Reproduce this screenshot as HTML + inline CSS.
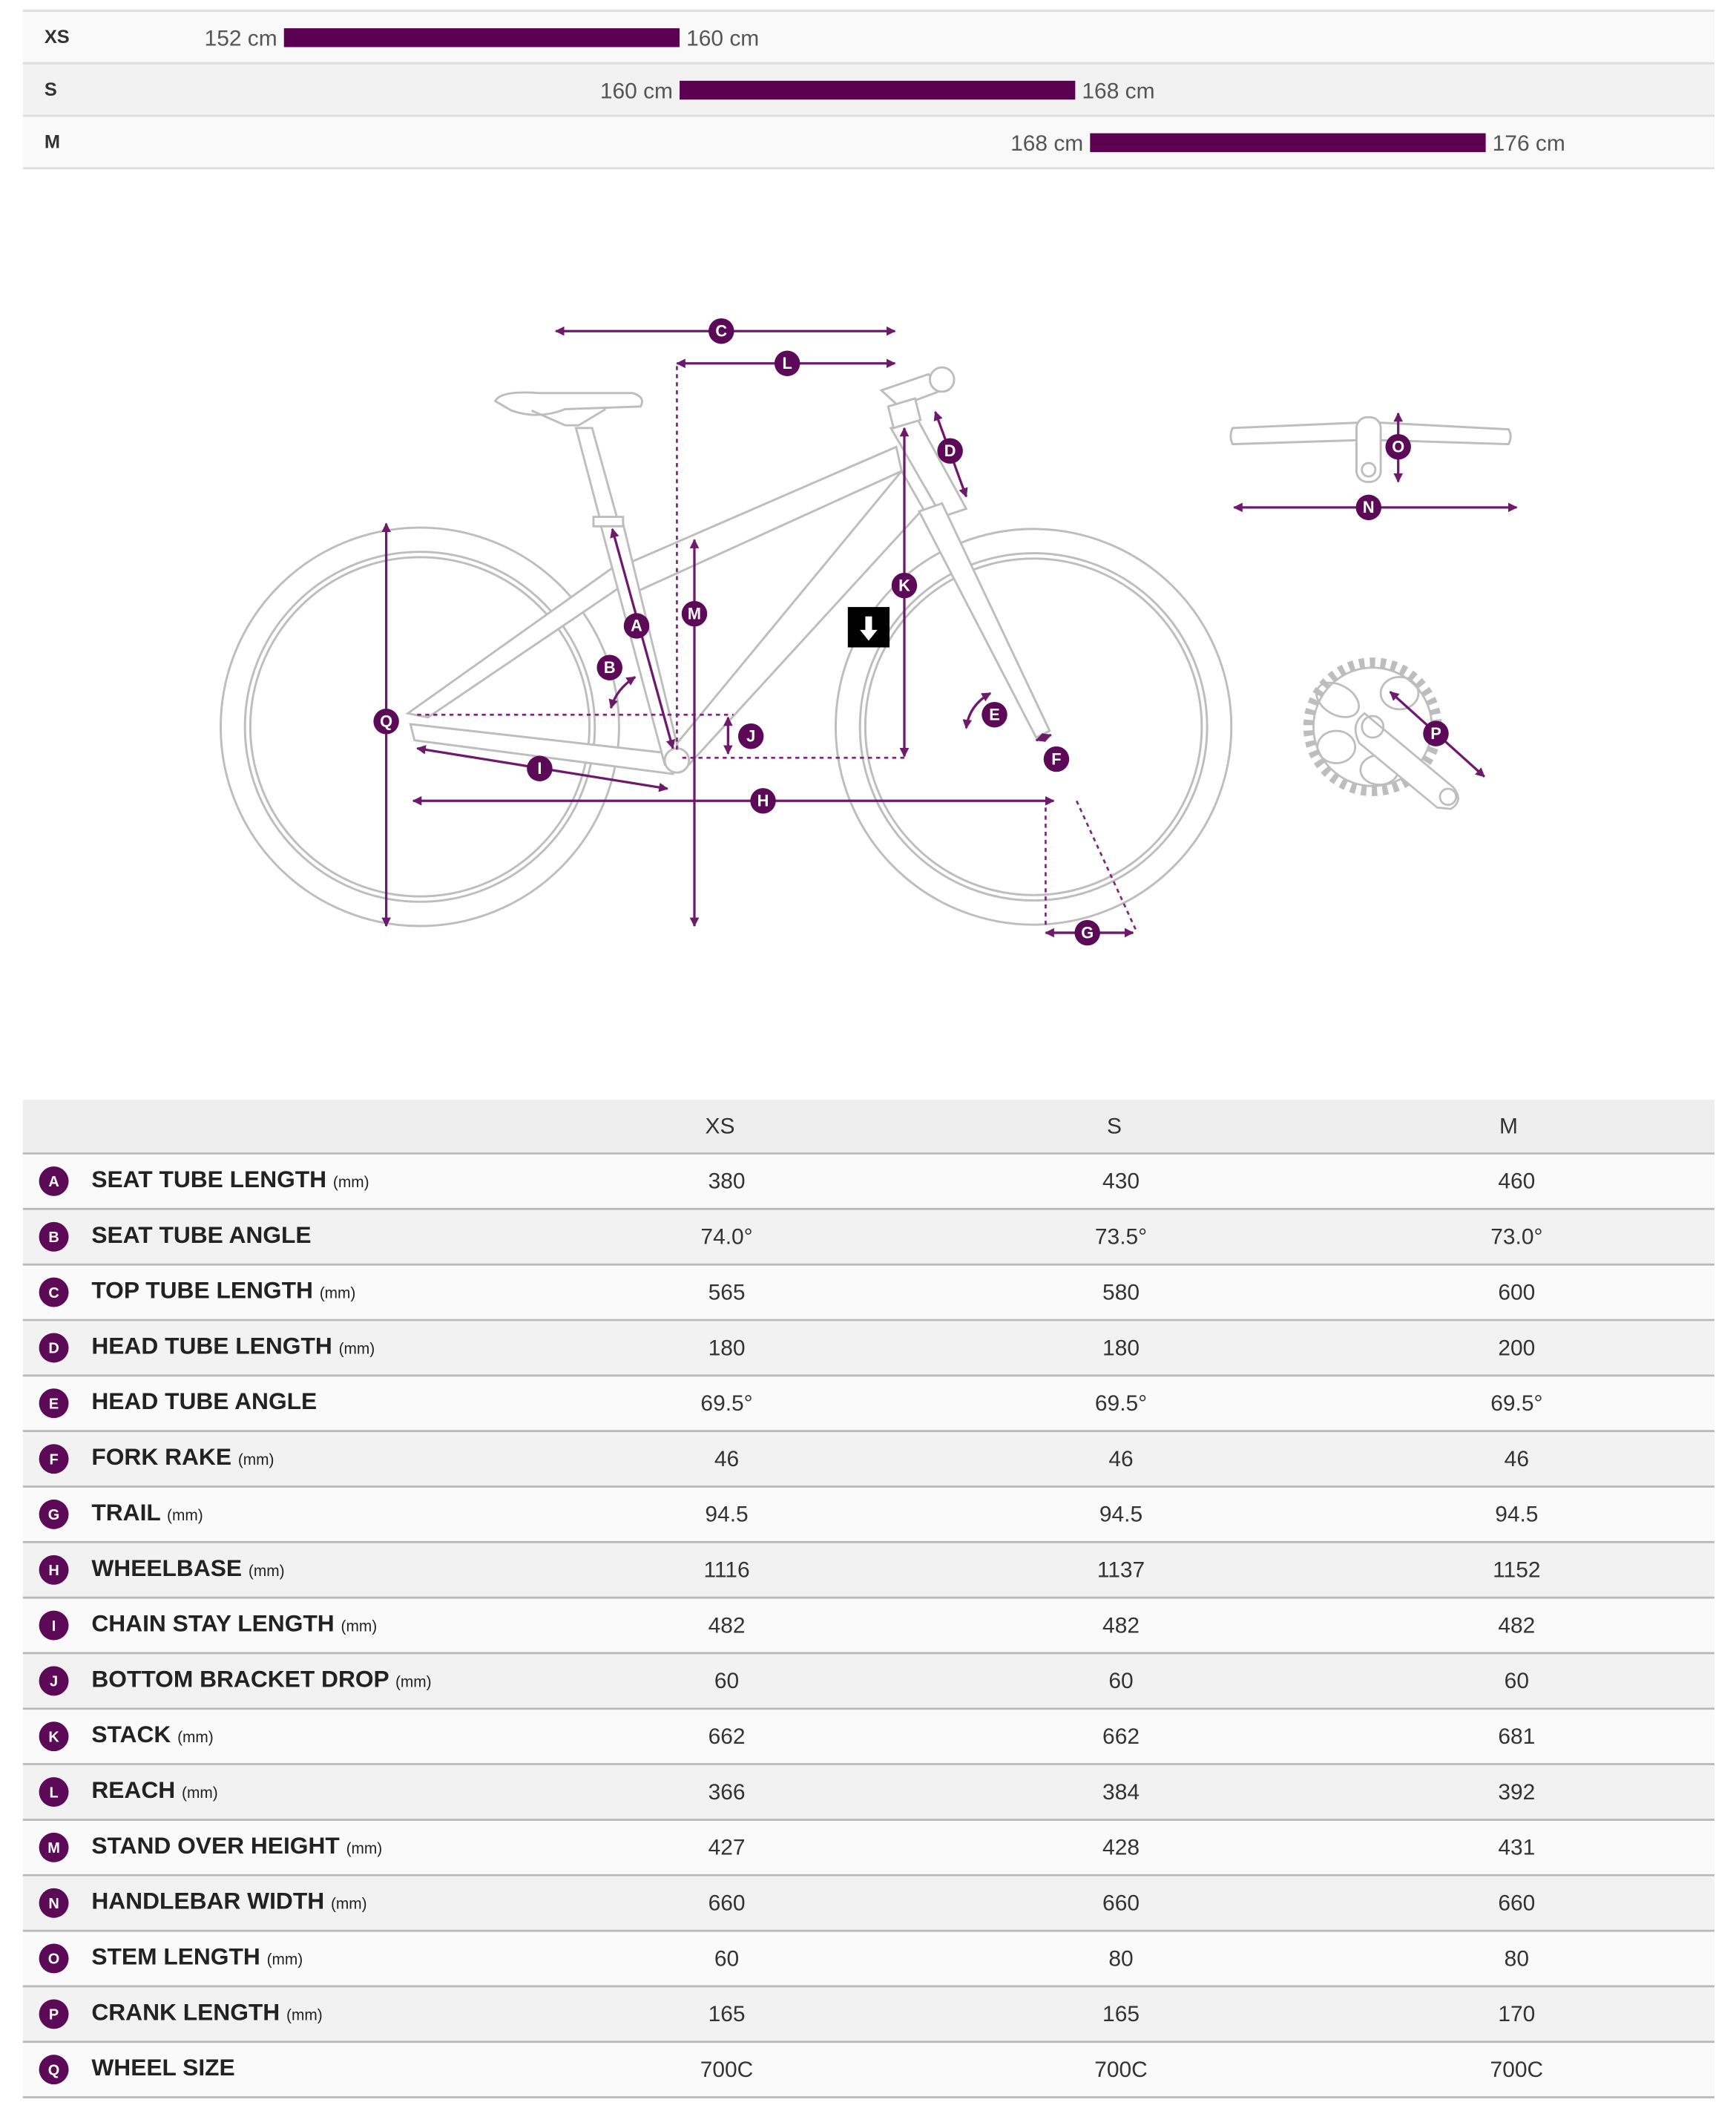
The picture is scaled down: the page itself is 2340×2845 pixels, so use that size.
<!DOCTYPE html>
<html><head><meta charset="utf-8"><style>
html,body{margin:0;padding:0;background:#fff}
svg{display:block}
text{font-family:"Liberation Sans",sans-serif}
</style></head><body>
<svg width="2340" height="2845" viewBox="0 0 1290 1568.4" xmlns="http://www.w3.org/2000/svg">
<defs>
<marker id="ar" viewBox="0 0 10 10" refX="9" refY="5" markerWidth="7" markerHeight="7" orient="auto-start-reverse" markerUnits="userSpaceOnUse"><path d="M0,0 L10,5 L0,10 z" fill="#6e1a6c"/></marker>
</defs>
<!-- top size table -->
<rect x="17" y="8" width="1257" height="39" fill="#f9f9f9"/>
<rect x="17" y="47" width="1257" height="39" fill="#f2f2f2"/>
<rect x="17" y="86" width="1257" height="39" fill="#f9f9f9"/>
<g stroke="#ddd" stroke-width="1.5"><line x1="17" y1="8" x2="1274" y2="8"/><line x1="17" y1="47" x2="1274" y2="47"/><line x1="17" y1="86" x2="1274" y2="86"/><line x1="17" y1="125" x2="1274" y2="125"/></g>
<g font-weight="bold" font-size="14" fill="#333"><text x="33" y="32">XS</text><text x="33" y="71">S</text><text x="33" y="110">M</text></g>
<g fill="#5c0052"><rect x="211" y="21" width="294" height="14"/><rect x="505" y="60" width="294" height="14"/><rect x="810" y="99" width="294" height="14"/></g>
<g font-size="16.5" fill="#555"><text x="206" y="34" text-anchor="end">152 cm</text><text x="510" y="34">160 cm</text>
<text x="500" y="73" text-anchor="end">160 cm</text><text x="804" y="73">168 cm</text>
<text x="805" y="112" text-anchor="end">168 cm</text><text x="1109" y="112">176 cm</text></g>

<!-- bike drawing -->
<g fill="none" stroke="#bdbdbd" stroke-width="1.6">
<circle cx="312" cy="540" r="148"/><circle cx="312" cy="540" r="130"/><circle cx="312" cy="540" r="126"/>
<circle cx="768" cy="540" r="147"/><circle cx="768" cy="540" r="129"/><circle cx="768" cy="540" r="125"/>
<path d="M303,530 L462,417 L470,430 L318,533 Z" fill="#fff"/>
<path d="M305,538 L500,560 L500,575 L308,550 Z" fill="#fff"/>
<path d="M468,418 L666,332 L670,350 L472,440 Z" fill="#fff"/>
<path d="M500,556 L670,350 L686,378 L512,568 Z" fill="#fff"/>
<path d="M445,385 L462,385 L506,565 L494,568 Z" fill="#fff"/>
<path d="M428,318 L440,318 L460,390 L447,390 Z" fill="#fff"/>
<rect x="441" y="384" width="22" height="7" fill="#fff"/>
<circle cx="503" cy="565" r="9" fill="#fff"/>
<path d="M662,318 L682,312 L718,378 L700,384 Z" fill="#fff"/>
<path d="M683,380 L700,374 L780,543 L770,548 Z" fill="#fff"/>
<path d="M655,290 L690,278 L700,290 L668,302 Z" fill="#fff"/>
<path d="M660,302 L680,296 L684,312 L664,318 Z" fill="#fff"/>
<circle cx="700" cy="282" r="9" fill="#fff"/>
<path d="M368,298 Q372,290 400,292 L470,292 Q480,295 476,302 L420,304 Q400,312 380,305 Z" fill="#fff"/>
<path d="M395,305 L420,316 L430,316 L450,304"/>
</g>
<!-- handlebar -->
<g fill="#fff" stroke="#bdbdbd" stroke-width="1.6">
<path d="M916,318 L1010,314 L1025,314 L1121,319 Q1124,324 1121,330 L1025,327 L1010,327 L916,330 Q913,324 916,318 Z"/>
<rect x="1008" y="310" width="18" height="48" rx="8"/>
<circle cx="1017" cy="349" r="5"/>
</g>
<!-- crank -->
<g fill="none" stroke="#bdbdbd" stroke-width="1.5">
<circle cx="1020" cy="540" r="48" stroke-width="7" stroke-dasharray="4,4"/>
<circle cx="1020" cy="540" r="44" fill="#fff"/>
<ellipse cx="994" cy="520" rx="17" ry="11" transform="rotate(30 994 520)"/>
<ellipse cx="1040" cy="515" rx="14" ry="12"/>
<ellipse cx="993" cy="555" rx="14" ry="12"/>
<ellipse cx="1025" cy="572" rx="14" ry="11"/>
<path d="M1014,530 L1080,585 Q1088,595 1078,601 L1068,600 L1010,552 Q1003,538 1014,530 Z" fill="#fff"/>
<circle cx="1020" cy="540" r="8"/><circle cx="1076" cy="592" r="6"/>
</g>
<!-- dotted guides -->
<g stroke="#7a2a78" stroke-width="1.5" stroke-dasharray="3,3" fill="none">
<line x1="503" y1="272" x2="503" y2="560"/>
<line x1="310" y1="531" x2="545" y2="531"/>
<line x1="507" y1="563" x2="672" y2="563"/>
<line x1="777" y1="600" x2="777" y2="690"/>
<line x1="800" y1="595" x2="845" y2="693"/>
</g>
<!-- dims -->
<g stroke="#6e1a6c" stroke-width="1.8" fill="none" marker-start="url(#ar)" marker-end="url(#ar)">
<line x1="413" y1="246" x2="665" y2="246"/>
<line x1="503" y1="270" x2="665" y2="270"/>
<line x1="695" y1="306" x2="718" y2="369"/>
<line x1="672" y1="318" x2="672" y2="562"/>
<line x1="516" y1="401" x2="516" y2="688"/>
<line x1="455" y1="393" x2="500" y2="556"/>
<line x1="287" y1="389" x2="287" y2="688"/>
<line x1="310" y1="556" x2="496" y2="586"/>
<line x1="307" y1="595" x2="783" y2="595"/>
<line x1="541" y1="533" x2="541" y2="560"/>
<line x1="777" y1="693" x2="842" y2="693"/>
<path d="M454,526 Q458,512 472,503"/>
<path d="M718,541 Q720,524 736,515"/>
<line x1="770" y1="550" x2="781" y2="546"/>
<line x1="1039" y1="307" x2="1039" y2="358"/>
<line x1="917" y1="377" x2="1127" y2="377"/>
<line x1="1033" y1="514" x2="1103" y2="577"/>
</g>
<!-- badges -->
<g fill="#5c0a58">
<circle cx="536" cy="246" r="9.5"/><circle cx="585" cy="270" r="9.5"/><circle cx="706" cy="335" r="9.5"/>
<circle cx="672" cy="435" r="9.5"/><circle cx="516" cy="456" r="9.5"/><circle cx="473" cy="465" r="9.5"/>
<circle cx="453" cy="496" r="9.5"/><circle cx="558" cy="547" r="9.5"/><circle cx="287" cy="536" r="9.5"/>
<circle cx="401" cy="571" r="9.5"/><circle cx="567" cy="595" r="9.5"/><circle cx="739" cy="531" r="9.5"/>
<circle cx="785" cy="564" r="9.5"/><circle cx="808" cy="693" r="9.5"/><circle cx="1039" cy="332" r="9.5"/>
<circle cx="1017" cy="377" r="9.5"/><circle cx="1067" cy="545" r="9.5"/>
</g>
<g fill="#fff" font-weight="bold" font-size="12" text-anchor="middle">
<text x="536" y="250">C</text><text x="585" y="274">L</text><text x="706" y="339">D</text>
<text x="672" y="439">K</text><text x="516" y="460">M</text><text x="473" y="469">A</text>
<text x="453" y="500">B</text><text x="558" y="551">J</text><text x="287" y="540">Q</text>
<text x="401" y="575">I</text><text x="567" y="599">H</text><text x="739" y="535">E</text>
<text x="785" y="568">F</text><text x="808" y="697">G</text><text x="1039" y="336">O</text>
<text x="1017" y="381">N</text><text x="1067" y="549">P</text>
</g>
<rect x="630" y="451" width="31" height="30" fill="#000"/>
<path d="M643,458 L648,458 L648,468 L652,468 L645.5,476 L639,468 L643,468 Z" fill="#fff"/>

<!-- geometry table -->
<rect x="17" y="817" width="1257" height="40" fill="#eeeeee"/>
<g font-size="16.5" fill="#333" text-anchor="middle"><text x="535" y="842">XS</text><text x="828" y="842">S</text><text x="1121" y="842">M</text></g>
<g fill="#fafafa">
<rect x="17" y="857" width="1257" height="41.2"/><rect x="17" y="939.5" width="1257" height="41.2"/><rect x="17" y="1022" width="1257" height="41.2"/><rect x="17" y="1104.5" width="1257" height="41.2"/><rect x="17" y="1187" width="1257" height="41.2"/><rect x="17" y="1269.5" width="1257" height="41.2"/><rect x="17" y="1352" width="1257" height="41.2"/><rect x="17" y="1434.5" width="1257" height="41.2"/><rect x="17" y="1517" width="1257" height="41.2"/>
</g>
<g fill="#f2f2f2">
<rect x="17" y="898.2" width="1257" height="41.2"/><rect x="17" y="980.7" width="1257" height="41.2"/><rect x="17" y="1063.2" width="1257" height="41.2"/><rect x="17" y="1145.7" width="1257" height="41.2"/><rect x="17" y="1228.2" width="1257" height="41.2"/><rect x="17" y="1310.7" width="1257" height="41.2"/><rect x="17" y="1393.2" width="1257" height="41.2"/><rect x="17" y="1475.7" width="1257" height="41.2"/>
</g>
<g stroke="#b8b8b8" stroke-width="1.5">
<line x1="17" y1="857" x2="1274" y2="857"/><line x1="17" y1="898.2" x2="1274" y2="898.2"/><line x1="17" y1="939.5" x2="1274" y2="939.5"/><line x1="17" y1="980.7" x2="1274" y2="980.7"/><line x1="17" y1="1022" x2="1274" y2="1022"/><line x1="17" y1="1063.2" x2="1274" y2="1063.2"/><line x1="17" y1="1104.5" x2="1274" y2="1104.5"/><line x1="17" y1="1145.7" x2="1274" y2="1145.7"/><line x1="17" y1="1187" x2="1274" y2="1187"/><line x1="17" y1="1228.2" x2="1274" y2="1228.2"/><line x1="17" y1="1269.5" x2="1274" y2="1269.5"/><line x1="17" y1="1310.7" x2="1274" y2="1310.7"/><line x1="17" y1="1352" x2="1274" y2="1352"/><line x1="17" y1="1393.2" x2="1274" y2="1393.2"/><line x1="17" y1="1434.5" x2="1274" y2="1434.5"/><line x1="17" y1="1475.7" x2="1274" y2="1475.7"/><line x1="17" y1="1517" x2="1274" y2="1517"/><line x1="17" y1="1558.2" x2="1274" y2="1558.2"/>
</g>
<g fill="#5c0a58">
<circle cx="40" cy="877.6" r="11"/><circle cx="40" cy="918.9" r="11"/><circle cx="40" cy="960.1" r="11"/><circle cx="40" cy="1001.4" r="11"/><circle cx="40" cy="1042.6" r="11"/><circle cx="40" cy="1083.9" r="11"/><circle cx="40" cy="1125.1" r="11"/><circle cx="40" cy="1166.4" r="11"/><circle cx="40" cy="1207.6" r="11"/><circle cx="40" cy="1248.9" r="11"/><circle cx="40" cy="1290.1" r="11"/><circle cx="40" cy="1331.4" r="11"/><circle cx="40" cy="1372.6" r="11"/><circle cx="40" cy="1413.9" r="11"/><circle cx="40" cy="1455.1" r="11"/><circle cx="40" cy="1496.4" r="11"/><circle cx="40" cy="1537.6" r="11"/>
</g>
<g fill="#fff" font-weight="bold" font-size="11" text-anchor="middle">
<text x="40" y="881.6">A</text><text x="40" y="922.9">B</text><text x="40" y="964.1">C</text><text x="40" y="1005.4">D</text><text x="40" y="1046.6">E</text><text x="40" y="1087.9">F</text><text x="40" y="1129.1">G</text><text x="40" y="1170.4">H</text><text x="40" y="1211.6">I</text><text x="40" y="1252.9">J</text><text x="40" y="1294.1">K</text><text x="40" y="1335.4">L</text><text x="40" y="1376.6">M</text><text x="40" y="1417.9">N</text><text x="40" y="1459.1">O</text><text x="40" y="1500.4">P</text><text x="40" y="1541.6">Q</text>
</g>
<g fill="#222" font-weight="bold" font-size="17.5">
<text x="68" y="882">SEAT TUBE LENGTH <tspan font-size="11.5" font-weight="normal">(mm)</tspan></text>
<text x="68" y="923.3">SEAT TUBE ANGLE</text>
<text x="68" y="964.5">TOP TUBE LENGTH <tspan font-size="11.5" font-weight="normal">(mm)</tspan></text>
<text x="68" y="1005.8">HEAD TUBE LENGTH <tspan font-size="11.5" font-weight="normal">(mm)</tspan></text>
<text x="68" y="1047">HEAD TUBE ANGLE</text>
<text x="68" y="1088.3">FORK RAKE <tspan font-size="11.5" font-weight="normal">(mm)</tspan></text>
<text x="68" y="1129.5">TRAIL <tspan font-size="11.5" font-weight="normal">(mm)</tspan></text>
<text x="68" y="1170.8">WHEELBASE <tspan font-size="11.5" font-weight="normal">(mm)</tspan></text>
<text x="68" y="1212">CHAIN STAY LENGTH <tspan font-size="11.5" font-weight="normal">(mm)</tspan></text>
<text x="68" y="1253.3">BOTTOM BRACKET DROP <tspan font-size="11.5" font-weight="normal">(mm)</tspan></text>
<text x="68" y="1294.5">STACK <tspan font-size="11.5" font-weight="normal">(mm)</tspan></text>
<text x="68" y="1335.8">REACH <tspan font-size="11.5" font-weight="normal">(mm)</tspan></text>
<text x="68" y="1377">STAND OVER HEIGHT <tspan font-size="11.5" font-weight="normal">(mm)</tspan></text>
<text x="68" y="1418.3">HANDLEBAR WIDTH <tspan font-size="11.5" font-weight="normal">(mm)</tspan></text>
<text x="68" y="1459.5">STEM LENGTH <tspan font-size="11.5" font-weight="normal">(mm)</tspan></text>
<text x="68" y="1500.8">CRANK LENGTH <tspan font-size="11.5" font-weight="normal">(mm)</tspan></text>
<text x="68" y="1542">WHEEL SIZE</text>
</g>
<g fill="#333" font-size="16.5" text-anchor="middle">
<text x="540" y="883">380</text><text x="833" y="883">430</text><text x="1127" y="883">460</text>
<text x="540" y="924.3">74.0°</text><text x="833" y="924.3">73.5°</text><text x="1127" y="924.3">73.0°</text>
<text x="540" y="965.5">565</text><text x="833" y="965.5">580</text><text x="1127" y="965.5">600</text>
<text x="540" y="1006.8">180</text><text x="833" y="1006.8">180</text><text x="1127" y="1006.8">200</text>
<text x="540" y="1048">69.5°</text><text x="833" y="1048">69.5°</text><text x="1127" y="1048">69.5°</text>
<text x="540" y="1089.3">46</text><text x="833" y="1089.3">46</text><text x="1127" y="1089.3">46</text>
<text x="540" y="1130.5">94.5</text><text x="833" y="1130.5">94.5</text><text x="1127" y="1130.5">94.5</text>
<text x="540" y="1171.8">1116</text><text x="833" y="1171.8">1137</text><text x="1127" y="1171.8">1152</text>
<text x="540" y="1213">482</text><text x="833" y="1213">482</text><text x="1127" y="1213">482</text>
<text x="540" y="1254.3">60</text><text x="833" y="1254.3">60</text><text x="1127" y="1254.3">60</text>
<text x="540" y="1295.5">662</text><text x="833" y="1295.5">662</text><text x="1127" y="1295.5">681</text>
<text x="540" y="1336.8">366</text><text x="833" y="1336.8">384</text><text x="1127" y="1336.8">392</text>
<text x="540" y="1378">427</text><text x="833" y="1378">428</text><text x="1127" y="1378">431</text>
<text x="540" y="1419.3">660</text><text x="833" y="1419.3">660</text><text x="1127" y="1419.3">660</text>
<text x="540" y="1460.5">60</text><text x="833" y="1460.5">80</text><text x="1127" y="1460.5">80</text>
<text x="540" y="1501.8">165</text><text x="833" y="1501.8">165</text><text x="1127" y="1501.8">170</text>
<text x="540" y="1543">700C</text><text x="833" y="1543">700C</text><text x="1127" y="1543">700C</text>
</g>
</svg>
</body></html>
